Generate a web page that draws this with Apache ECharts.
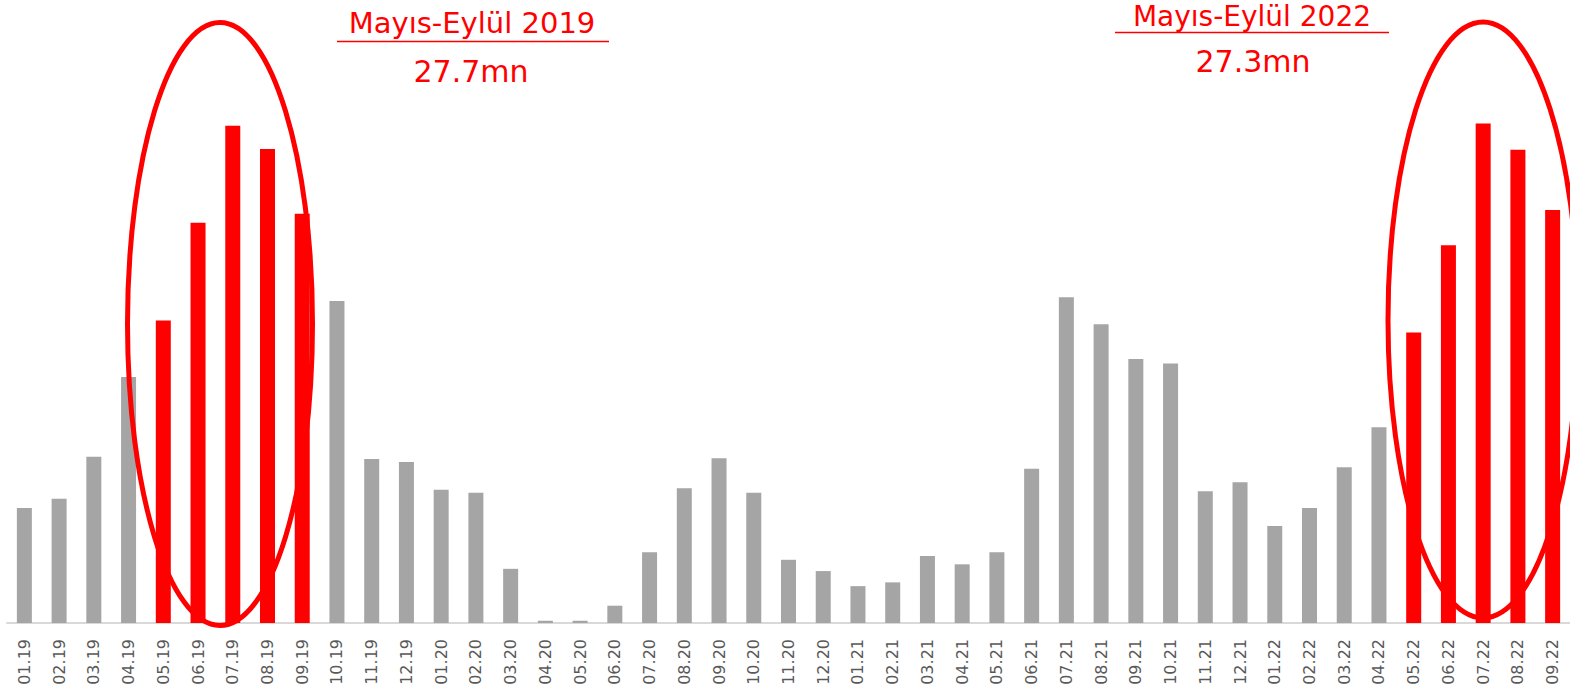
<!DOCTYPE html>
<html>
<head>
<meta charset="utf-8">
<title>Mayıs-Eylül</title>
<script src="https://cdn.jsdelivr.net/npm/echarts@6/dist/echarts.min.js"></script>
<style>
  html, body { margin: 0; padding: 0; background: #fff; }
  #chart { width: 1570px; height: 695px; }
</style>
</head>
<body>
<div id="chart"></div>
<script>
// months (MM.YY)
const months = [
  '01.19', '02.19', '03.19', '04.19', '05.19', '06.19', '07.19', '08.19', '09.19', '10.19', '11.19', '12.19',
  '01.20', '02.20', '03.20', '04.20', '05.20', '06.20', '07.20', '08.20', '09.20', '10.20', '11.20', '12.20',
  '01.21', '02.21', '03.21', '04.21', '05.21', '06.21', '07.21', '08.21', '09.21', '10.21', '11.21', '12.21',
  '01.22', '02.22', '03.22', '04.22', '05.22', '06.22', '07.22', '08.22', '09.22'
];

// visitors, millions
const visitors = [
  1.53, 1.65, 2.21, 3.27, 4.02, 5.32, 6.61, 6.30, 5.44, 4.28, 2.18, 2.14,
  1.77, 1.73, 0.72, 0.03, 0.03, 0.23, 0.94, 1.79, 2.19, 1.73, 0.84, 0.69,
  0.49, 0.54, 0.89, 0.78, 0.94, 2.05, 4.33, 3.97, 3.51, 3.45, 1.75, 1.87,
  1.29, 1.53, 2.07, 2.60, 3.86, 5.02, 6.64, 6.29, 5.49
];

// May-September months that are highlighted
const highlighted = ['05.19', '06.19', '07.19', '08.19', '09.19', '05.22', '06.22', '07.22', '08.22', '09.22'];

const notes = [
  { title: 'Mayıs-Eylül 2019', total: '27.7mn' },
  { title: 'Mayıs-Eylül 2022', total: '27.3mn' }
];

const RED = '#ff0000';
const GRAY = '#a5a5a5';
const FONT = '"DejaVu Sans", sans-serif';

const chart = echarts.init(document.getElementById('chart'), null, { renderer: 'svg' });

const noteText = (x, y, text, size) => ({
  type: 'text',
  x: x,
  y: y,
  style: { text: text, fill: RED, font: size + 'px ' + FONT, align: 'center', verticalAlign: 'top' },
  z: 100
});

const options = {
  animation: false,
  grid: {
    left: 7,
    right: 0,
    top: 0,
    bottom: 72
  },
  xAxis: {
    type: 'category',
    data: months,
    axisTick: { show: false },
    axisLine: {
      lineStyle: { color: '#d9d9d9', width: 2 }
    },
    axisLabel: {
      rotate: 90,
      interval: 0,
      margin: 16,
      color: '#595959',
      fontFamily: FONT,
      fontSize: 16
    }
  },
  yAxis: {
    type: 'value',
    min: 0,
    max: 8.28,
    show: false,
    splitLine: { show: false }
  },
  series: [
    {
      type: 'bar',
      data: visitors,
      barWidth: 15,
      itemStyle: {
        color: (p) => (highlighted.includes(p.name) ? RED : GRAY)
      }
    }
  ],
  graphic: [
    // ellipses round the summer months
    {
      type: 'ellipse',
      shape: { cx: 220, cy: 324, rx: 92.5, ry: 301.5 },
      style: { fill: 'none', stroke: RED, lineWidth: 5 },
      z: 100
    },
    {
      type: 'ellipse',
      shape: { cx: 1483, cy: 320, rx: 95, ry: 298 },
      style: { fill: 'none', stroke: RED, lineWidth: 5 },
      z: 100
    },
    // notes
    noteText(472, 8, notes[0].title, 29),
    {
      type: 'line',
      shape: { x1: 337, y1: 41.5, x2: 609, y2: 41.5 },
      style: { stroke: RED, lineWidth: 1.5 },
      z: 100
    },
    noteText(471, 56, notes[0].total, 30),
    noteText(1252, 2, notes[1].title, 28),
    {
      type: 'line',
      shape: { x1: 1115, y1: 32.5, x2: 1389, y2: 32.5 },
      style: { stroke: RED, lineWidth: 1.5 },
      z: 100
    },
    noteText(1253, 46, notes[1].total, 30)
  ]
};

chart.setOption(options);

window.addEventListener('resize', () => {
  if (chart) {
    chart.resize();
  }
});
</script>
</body>
</html>
